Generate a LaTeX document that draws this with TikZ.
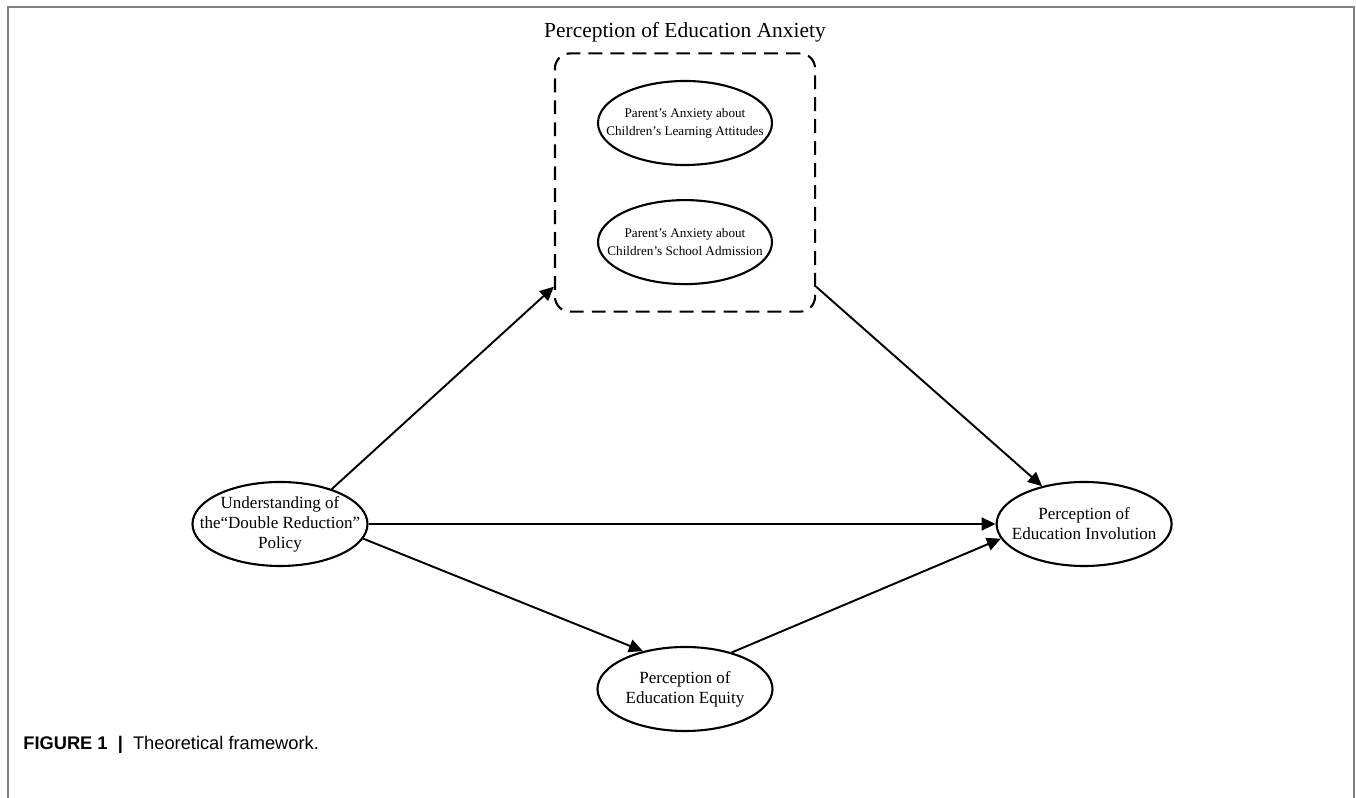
\documentclass[tikz,border=0pt]{standalone}
\usepackage{fontspec}
\setmainfont{Liberation Serif}
\setsansfont{Liberation Sans}
\usetikzlibrary{calc}
\usetikzlibrary{shapes.geometric,arrows.meta,positioning,fit}

\begin{document}
\begin{tikzpicture}
    % Define styles
    \tikzstyle{construct} = [ellipse, draw, line width=1.2pt, minimum width=3.5cm, minimum height=1.68cm, inner xsep=-1cm, inner ysep=-0.5cm, align=center, font=\fontsize{9.7}{11.4}\selectfont]
    \tikzstyle{facet} = [construct, minimum width=3.48cm, font=\fontsize{7.5}{10.2}\selectfont]
    \tikzstyle{anxgroup} = [rectangle, draw, dash pattern=on 7.9pt off 4.6pt, line width=1.2pt, rounded corners=0.3cm, inner xsep=0.84cm, inner ysep=0.53cm]
    \tikzstyle{arrow} = [-{Triangle[length=2.8mm, width=2.6mm]}, line width=1.1pt]

    \useasboundingbox (0,0) rectangle (27.12,15.96);
    % Figure frame
    \draw[black!50, line width=0.8pt] (0.16,0) -- (0.16,15.82) -- (27.08,15.82) -- (27.08,0);

    % Draw main constructs
    \node[construct] (policy) at (5.6,5.48) {Understanding of\\the“Double Reduction”\\Policy};
    \node[construct, right=12.54cm of policy] (involution) {Perception of\\Education Involution};
    \node[construct] (equity) at (13.7,2.18) {Perception of\\Education Equity};

    % Draw anxiety facets inside the dashed group
    \node[facet] (attitude) at (13.7,13.5) {Parent’s Anxiety about\\Children’s Learning Attitudes};
    \node[facet, below=0.66cm of attitude] (admission) {Parent’s Anxiety about\\Children’s School Admission};
    \node[anxgroup, fit=(attitude)(admission)] (anxiety) {};
    \node[above=0.2cm of anxiety, inner sep=0, font=\fontsize{12.2}{14}\selectfont] (title) {Perception of Education Anxiety};

    % Draw the paths
    \draw[arrow] (policy.34) -- ($(anxiety.south west)!0.1!(anxiety.north west)$);
    \draw[arrow] ($(anxiety.south east)!0.1!(anxiety.north east)$) -- (involution.138);
    \draw[arrow] (policy.east) -- (involution.west);
    \draw[arrow] (policy.-10) -- (equity.138);
    \draw[arrow] (equity.38) -- (involution.190);

    % Caption
    \node[anchor=west, inner sep=0, font=\sffamily\fontsize{10.4}{12}\selectfont] (caption) at (0.46,1.06) {\textbf{FIGURE 1}\ \ \textbf{|}\ \ Theoretical framework.};
\end{tikzpicture}
\end{document}
